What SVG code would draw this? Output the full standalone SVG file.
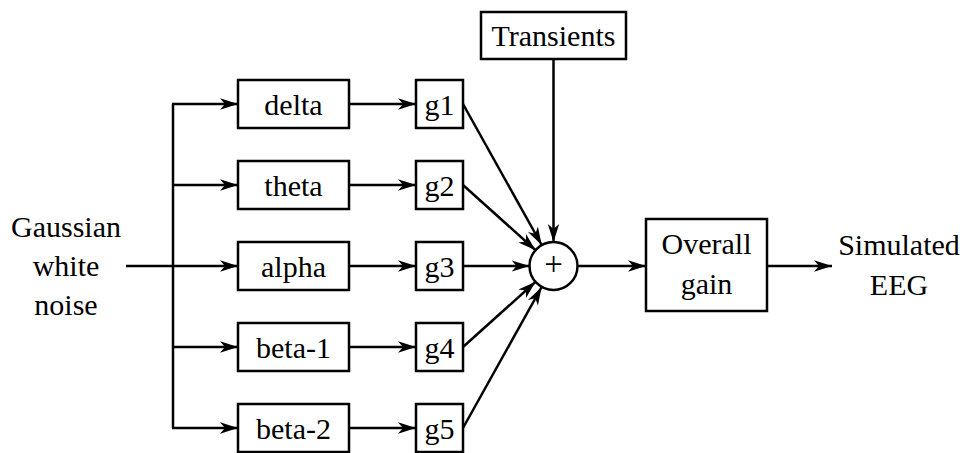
<svg xmlns="http://www.w3.org/2000/svg" width="965" height="453" viewBox="0 0 965 453">
  <style>
    .box { fill: #fff; stroke: #000; stroke-width: 2.5; }
    .lbl { font-family: "Liberation Serif", "Times New Roman", serif; font-size: 30px; fill: #000; text-anchor: middle; }
    .wire { fill: none; stroke: #000; stroke-width: 2.5; }
    .arr { marker-end: url(#head); }
  </style>
  <defs>
    <marker id="head" markerUnits="userSpaceOnUse" markerWidth="19" markerHeight="13" refX="18" refY="6.5" orient="auto">
      <path d="M0,0.8 L18,6.5 L0,12.2 L5,6.5 Z" fill="#000"/>
    </marker>
  </defs>
  <rect width="965" height="453" fill="#fff"/>

  <!-- connectors -->
  <g id="connectors">
    <!-- input and branching bus -->
    <line class="wire" x1="126" y1="266" x2="173" y2="266"/>
    <line class="wire" x1="173" y1="104" x2="173" y2="428"/>
    <line class="wire arr" x1="172" y1="104" x2="238" y2="104"/>
    <line class="wire arr" x1="173" y1="185" x2="238" y2="185"/>
    <line class="wire arr" x1="173" y1="266" x2="238" y2="266"/>
    <line class="wire arr" x1="173" y1="347" x2="238" y2="347"/>
    <line class="wire arr" x1="172" y1="428" x2="238" y2="428"/>
    <!-- filters to gains -->
    <line class="wire arr" x1="349" y1="104" x2="416" y2="104"/>
    <line class="wire arr" x1="349" y1="185" x2="416" y2="185"/>
    <line class="wire arr" x1="349" y1="266" x2="416" y2="266"/>
    <line class="wire arr" x1="349" y1="347" x2="416" y2="347"/>
    <line class="wire arr" x1="349" y1="428" x2="416" y2="428"/>
    <!-- gains to summer -->
    <line class="wire arr" x1="463" y1="104" x2="541.7" y2="245"/>
    <line class="wire arr" x1="463" y1="185" x2="535.6" y2="250.2"/>
    <line class="wire arr" x1="463" y1="266" x2="529.5" y2="266"/>
    <line class="wire arr" x1="463" y1="347" x2="535.6" y2="281.8"/>
    <line class="wire arr" x1="463" y1="428" x2="541.7" y2="287"/>
    <!-- transients to summer -->
    <line class="wire arr" x1="553.5" y1="59" x2="553.5" y2="242"/>
    <!-- summer to overall gain, and output -->
    <line class="wire arr" x1="577.5" y1="266" x2="646" y2="266"/>
    <line class="wire arr" x1="767" y1="266" x2="832" y2="266"/>
  </g>

  <!-- input label -->
  <g id="input">
    <text class="lbl" x="66" y="237">Gaussian</text>
    <text class="lbl" x="66" y="276">white</text>
    <text class="lbl" x="66" y="315">noise</text>
  </g>

  <!-- band filters -->
  <g id="delta"><rect class="box" x="238" y="80" width="111" height="48"/><text class="lbl" x="293.5" y="114.5">delta</text></g>
  <g id="theta"><rect class="box" x="238" y="161" width="111" height="48"/><text class="lbl" x="293.5" y="195.5">theta</text></g>
  <g id="alpha"><rect class="box" x="238" y="242" width="111" height="48"/><text class="lbl" x="293.5" y="276.5">alpha</text></g>
  <g id="beta1"><rect class="box" x="238" y="323" width="111" height="48"/><text class="lbl" x="293.5" y="357.5">beta-1</text></g>
  <g id="beta2"><rect class="box" x="238" y="404" width="111" height="48"/><text class="lbl" x="293.5" y="438.5">beta-2</text></g>

  <!-- band gains -->
  <g id="g1"><rect class="box" x="416" y="80" width="47" height="48"/><text class="lbl" x="439.5" y="114.5">g1</text></g>
  <g id="g2"><rect class="box" x="416" y="161" width="47" height="48"/><text class="lbl" x="439.5" y="195.5">g2</text></g>
  <g id="g3"><rect class="box" x="416" y="242" width="47" height="48"/><text class="lbl" x="439.5" y="276.5">g3</text></g>
  <g id="g4"><rect class="box" x="416" y="323" width="47" height="48"/><text class="lbl" x="439.5" y="357.5">g4</text></g>
  <g id="g5"><rect class="box" x="416" y="404" width="47" height="48"/><text class="lbl" x="439.5" y="438.5">g5</text></g>

  <!-- transients source -->
  <g id="transients"><rect class="box" x="481" y="12" width="145" height="47"/><text class="lbl" x="553.5" y="46">Transients</text></g>

  <!-- summing junction -->
  <g id="sum">
    <circle cx="553.5" cy="266" r="24" fill="#fff" stroke="#000" stroke-width="2.5"/>
    <text class="lbl" x="553.5" y="274.5" style="font-size:33px">+</text>
  </g>

  <!-- overall gain -->
  <g id="overall">
    <rect class="box" x="646" y="219" width="121" height="92"/>
    <text class="lbl" x="706.5" y="254">Overall</text>
    <text class="lbl" x="706.5" y="294">gain</text>
  </g>

  <!-- output label -->
  <g id="output">
    <text class="lbl" x="899" y="255">Simulated</text>
    <text class="lbl" x="899" y="295">EEG</text>
  </g>
</svg>
